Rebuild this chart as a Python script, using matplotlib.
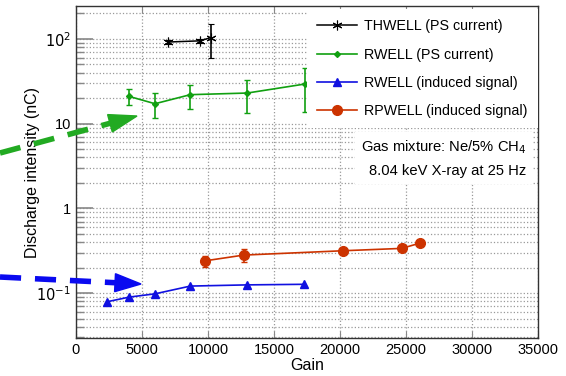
import numpy as np
import matplotlib.pyplot as plt
from matplotlib.lines import Line2D
from matplotlib.patches import Polygon
from matplotlib.ticker import FixedLocator, FuncFormatter, LogLocator, NullFormatter

plt.rcParams['font.family'] = ['Liberation Sans', 'DejaVu Sans']

# THWELL, PS current
thwell_gain = [6950, 9390, 10230]
thwell_q = [92, 95, 104]
thwell_err = [4, 6, 45]

# RWELL, PS current
rwell_ps_gain = [4015, 5985, 8660, 12980, 17350]
rwell_ps_q = [21, 17.2, 22, 23, 29.4]
rwell_ps_err = [4.4, 5.6, 7, 9.5, 15.7]

# RWELL, induced signal
rwell_ind_gain = [2350, 4040, 5985, 8660, 12980, 17300]
rwell_ind_q = [0.079, 0.0897, 0.098, 0.121, 0.125, 0.127]

# RPWELL, induced signal
rpwell_gain = [9750, 12705, 20205, 24675, 26060]
rpwell_q = [0.24, 0.281, 0.316, 0.337, 0.389]
rpwell_err = [0.035, 0.05, 0.008, 0.008, 0.008]

c_black = 'black'
c_green = '#11a011'
c_blue = '#1010e0'
c_red = '#cc3300'

star = (6, 2, 0)

W, H = 566, 376
fig = plt.figure(figsize=(W / 100, H / 100), dpi=100)
ax = fig.add_axes([76 / W, 38 / H, 462 / W, 332 / H])

ax.set_yscale('log')
ax.set_xlim(0, 35000)
ax.set_ylim(0.0295, 245)

# data series
ax.errorbar(thwell_gain, thwell_q, yerr=thwell_err, color=c_black, lw=1.1,
            marker=star, ms=7, mew=0.8, capsize=2, elinewidth=1.2, zorder=5)
ax.errorbar(rwell_ps_gain, rwell_ps_q, yerr=rwell_ps_err, color=c_green, lw=1.2,
            marker='D', ms=3, capsize=2, elinewidth=1.2, zorder=5)
ax.plot(rwell_ind_gain, rwell_ind_q, color=c_blue, lw=1.2, marker='^', ms=6, zorder=5)
ax.errorbar(rpwell_gain, rpwell_q, yerr=rpwell_err, color=c_red, lw=1.2,
            marker='o', ms=7, capsize=2, elinewidth=1.2, zorder=5)

# ticks and grid
ax.xaxis.set_major_locator(FixedLocator(np.arange(0, 35001, 5000)))
ax.yaxis.set_major_locator(LogLocator(base=10, numticks=10))
ax.yaxis.set_minor_locator(LogLocator(base=10, subs=np.arange(2, 10), numticks=10))
ax.yaxis.set_minor_formatter(NullFormatter())

def ylabel_fmt(v, pos):
    e = int(round(np.log10(v)))
    if e == 0:
        return '1'
    if e == 1:
        return '10'
    return r'$10^{%d}$' % e

ax.yaxis.set_major_formatter(FuncFormatter(ylabel_fmt))
ax.tick_params(axis='both', which='both', direction='in', top=True, right=False,
               labelsize=10.5)
ax.tick_params(axis='y', which='major', length=12, width=1.2, color='#888888')
ax.tick_params(axis='y', which='minor', length=6, width=1.0, color='#888888')
ax.tick_params(axis='x', which='major', length=5, color='#888888')
ax.grid(True, which='major', axis='both', ls=':', color='#999999', lw=0.9)
ax.grid(True, which='minor', axis='y', ls=':', color='#999999', lw=0.9)
ax.set_axisbelow(True)
for s in ax.spines.values():
    s.set_linewidth(1.0)
    s.set_color('#333333')

ax.set_xlabel('Gain', fontsize=11.5, labelpad=1)
ax.set_ylabel('Discharge intensity (nC)', fontsize=11.5, labelpad=-2.5)

# legend without error bars
handles = [
    Line2D([], [], color=c_black, lw=1.1, marker=star, ms=7, mew=0.8),
    Line2D([], [], color=c_green, lw=1.2, marker='D', ms=3),
    Line2D([], [], color=c_blue, lw=1.2, marker='^', ms=6),
    Line2D([], [], color=c_red, lw=1.2, marker='o', ms=7),
]
labels = ['THWELL (PS current)', 'RWELL (PS current)',
          'RWELL (induced signal)', 'RPWELL (induced signal)']
leg = ax.legend(handles, labels, loc='upper right', bbox_to_anchor=(1.0, 0.99),
                fontsize=10.3, frameon=True, fancybox=False, edgecolor='none',
                facecolor='white', framealpha=1, handlelength=2.75,
                handletextpad=0.55, borderpad=0.7, labelspacing=1.0,
                borderaxespad=0.0)
leg.set_zorder(6)

ax.text(0.975, 0.60, 'Gas mixture: Ne/5% CH$_4$\n8.04 keV X-ray at 25 Hz',
        transform=ax.transAxes, ha='right', va='top', fontsize=10.6,
        linespacing=1.7,
        bbox=dict(facecolor='white', edgecolor='none', pad=4), zorder=6)

# dashed pointer arrows coming in from the left
def pointer(x0, y0, x1, y1, base, half, color):
    # coordinates in image pixels (origin top-left)
    d = np.array([x1 - x0, y1 - y0], float)
    u = d / np.hypot(*d)
    n = np.array([-u[1], u[0]])
    tip = np.array([x1, y1], float)
    b = tip - u * base
    line = Line2D([x0, b[0] + u[0] * 4], [H - y0, H - (b[1] + u[1] * 4)],
                  transform=None, color=color, lw=4, ls=(0, (3.8, 2.5)))
    fig.add_artist(line)
    pts = [tip, b + n * half, b - n * half]
    head = Polygon([(p[0], H - p[1]) for p in pts], closed=True,
                   transform=None, facecolor=color, edgecolor=color)
    fig.add_artist(head)

pointer(0, 153, 137, 116, 28, 9, '#22aa22')
pointer(0, 277, 141, 284, 26, 9, '#0a0af0')

fig.savefig('out.png', dpi=100)
